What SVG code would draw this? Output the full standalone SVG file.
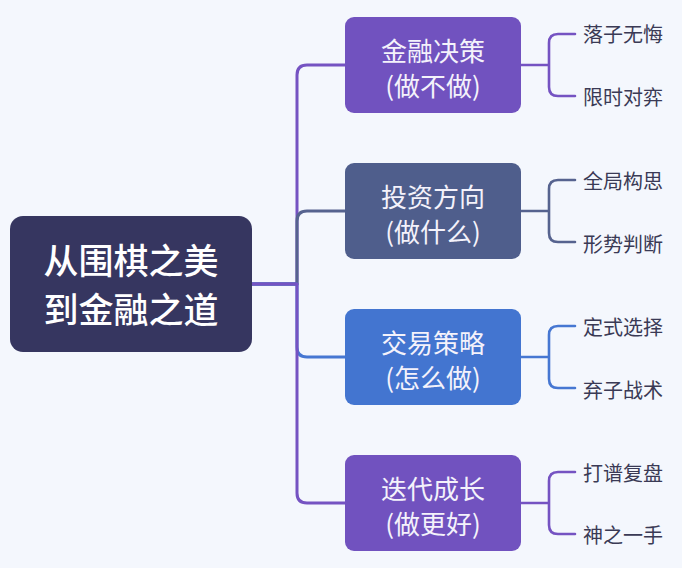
<svg xmlns="http://www.w3.org/2000/svg" width="682" height="568" viewBox="0 0 682 568">
<style>
.bg{fill:#f4f7fd}
.root{fill:#363660}
.rt{font-family:"Noto Sans CJK SC","Noto Sans",sans-serif;font-size:35px;font-weight:500;fill:#ffffff;text-anchor:middle}
.bt{font-family:"Noto Sans CJK SC","Noto Sans",sans-serif;font-size:26px;fill:#f4f2fb;text-anchor:middle}
.lt{font-family:"Noto Sans CJK SC","Noto Sans",sans-serif;font-size:20px;fill:#3a3a55}
.c{fill:none;stroke-width:3;stroke-linecap:round;stroke-linejoin:round}
.lc{fill:none;stroke-width:2.6;stroke-linecap:round;stroke-linejoin:round}
.p{stroke:#7553c2}
.s{stroke:#56638f}
.b{stroke:#4677d2}
</style>
<rect class="bg" x="0" y="0" width="682" height="568"/>
<g id="connectors">
<path class="c p" d="M252,284 H297 V75 Q297,65 307,65 H345"/>
<path class="c s" d="M252,284 H297 V221 Q297,211 307,211 H345"/>
<path class="c b" d="M252,284 H297 V347 Q297,357 307,357 H345"/>
<path class="c p" d="M252,284 H297 V493 Q297,503 307,503 H345"/>
<path class="lc p" d="M521,65 H549 M575,34 H558 Q549,34 549,43 V87 Q549,96 558,96 H575"/>
<path class="lc s" d="M521,211 H549 M575,180 H558 Q549,180 549,189 V233 Q549,242 558,242 H575"/>
<path class="lc b" d="M521,357 H549 M575,326 H558 Q549,326 549,335 V379 Q549,388 558,388 H575"/>
<path class="lc p" d="M521,503 H549 M575,472 H558 Q549,472 549,481 V525 Q549,534 558,534 H575"/>
</g>
<g id="root">
<rect class="root" x="10" y="216" width="242" height="136" rx="13"/>
<text class="rt" x="131" y="273.5">从围棋之美</text>
<text class="rt" x="131" y="322.5">到金融之道</text>
</g>
<g id="n1">
<rect x="345" y="17" width="176" height="96" rx="9" fill="#7152bf"/>
<text class="bt" x="433" y="61">金融决策</text>
<text class="bt" x="433" y="96">(做不做)</text>
</g>
<g id="n2">
<rect x="345" y="163" width="176" height="96" rx="9" fill="#4f5e8c"/>
<text class="bt" x="433" y="207">投资方向</text>
<text class="bt" x="433" y="242">(做什么)</text>
</g>
<g id="n3">
<rect x="345" y="309" width="176" height="96" rx="9" fill="#4375d0"/>
<text class="bt" x="433" y="353">交易策略</text>
<text class="bt" x="433" y="388">(怎么做)</text>
</g>
<g id="n4">
<rect x="345" y="455" width="176" height="96" rx="9" fill="#7152bf"/>
<text class="bt" x="433" y="499">迭代成长</text>
<text class="bt" x="433" y="534">(做更好)</text>
</g>
<g id="l1a"><text class="lt" x="583" y="42">落子无悔</text></g>
<g id="l1b"><text class="lt" x="583" y="105">限时对弈</text></g>
<g id="l2a"><text class="lt" x="583" y="189">全局构思</text></g>
<g id="l2b"><text class="lt" x="583" y="252">形势判断</text></g>
<g id="l3a"><text class="lt" x="583" y="335">定式选择</text></g>
<g id="l3b"><text class="lt" x="583" y="398">弃子战术</text></g>
<g id="l4a"><text class="lt" x="583" y="481">打谱复盘</text></g>
<g id="l4b"><text class="lt" x="583" y="543">神之一手</text></g>
</svg>
